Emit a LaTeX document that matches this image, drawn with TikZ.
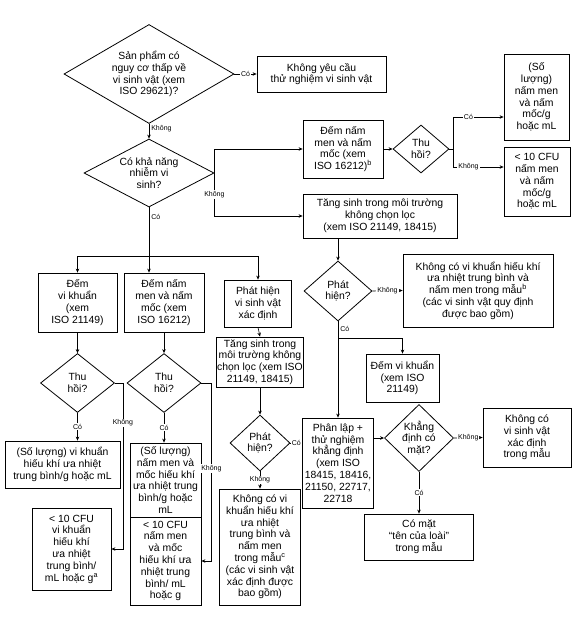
\documentclass[tikz,border=0pt]{standalone}
\usepackage{fontspec}
\setmainfont{Liberation Sans}
\usetikzlibrary{shapes.geometric,arrows.meta}
\begin{document}
\begin{tikzpicture}[x=1pt,y=-1pt,
  every node/.style={font=\fontsize{10.4}{11.8}\selectfont},
  box/.style={draw, line width=0.8pt, align=center, inner sep=0.5pt},
  dia/.style={draw, diamond, line width=0.8pt, align=center, inner sep=0pt},
  lbl/.style={font=\fontsize{7}{8}\selectfont, fill=white, inner sep=1pt},
  lblr/.style={font=\fontsize{7}{8}\selectfont, inner sep=2pt, right},
  arr/.style={-{Stealth[length=4pt,width=3.5pt]}, line width=0.6pt},
  ln/.style={line width=0.6pt}]
\useasboundingbox (0,0) rectangle (576,617);

% top
\node[dia, minimum width=170pt, minimum height=99pt, aspect=1.72] (d1) at (149,74) {Sản phẩm có\\nguy cơ thấp về\\vi sinh vật (xem\\ISO 29621)?};
\node[box, minimum width=129pt, minimum height=36pt] (b1) at (321.5,74) {Không yêu cầu\\thử nghiệm vi sinh vật};
\node[dia, minimum width=130pt, minimum height=68pt, aspect=1.9] (d2) at (149,173) {Có khả năng\\nhiễm vi\\sinh?};

% right column
\node[box, minimum width=80pt, minimum height=58pt] (bnm) at (343,149) {Đếm nấm\\men và nấm\\mốc (xem\\ISO 16212)\textsuperscript{b}};
\node[dia, minimum width=56pt, minimum height=48pt, aspect=1.17] (td) at (421,149) {Thu\\hồi?};
\node[box, minimum width=65pt, minimum height=86pt] (rb1) at (536.5,97) {(Số\\lượng)\\nấm men\\và nấm\\mốc/g\\hoặc mL};
\node[box, minimum width=66pt, minimum height=69pt] (rb2) at (537,181.5) {< 10 CFU\\nấm men\\và nấm\\mốc/g\\hoặc mL};
\node[box, minimum width=154pt, minimum height=44pt] (ts1) at (380,216) {Tăng sinh trong môi trường\\không chọn lọc\\(xem ISO 21149, 18415)};
\node[dia, minimum width=68pt, minimum height=60pt, aspect=1.13] (pd1) at (338,291) {Phát\\hiện?};
\node[box, minimum width=150pt, minimum height=73pt] (nb1) at (478,290.5) {Không có vi khuẩn hiếu khí\\ưa nhiệt trung bình và\\nấm men trong mẫu\textsuperscript{b}\\(các vi sinh vật quy định\\được bao gồm)};
\coordinate (j1) at (338,338);
\node[box, minimum width=73pt, minimum height=48pt] (evk) at (402.5,378) {Đếm vi khuẩn\\(xem ISO\\21149)};
\node[box, minimum width=71pt, minimum height=90pt] (pl) at (338,463) {Phân lập +\\thử nghiệm\\khẳng định\\(xem ISO\\18415, 18416,\\21150, 22717,\\22718};
\node[dia, minimum width=68pt, minimum height=66pt, aspect=1.03] (kd) at (419,438) {Khẳng\\định có\\mặt?};
\node[box, minimum width=88pt, minimum height=59pt] (nb2) at (527,437.5) {Không có\\vi sinh vật\\xác định\\trong mẫu};
\node[box, minimum width=109pt, minimum height=46pt] (cm) at (419,537) {Có mặt\\``tên của loài''\\trong mẫu};

% left three branches
\coordinate (bar) at (149,256);
\node[box, minimum width=79pt, minimum height=59pt] (l1) at (77.5,302.5) {Đếm\\vi khuẩn\\(xem\\ISO 21149)};
\node[box, minimum width=80pt, minimum height=59pt] (l2) at (164,302.5) {Đếm nấm\\men và nấm\\mốc (xem\\ISO 16212)};
\node[box, minimum width=67pt, minimum height=47pt] (l3) at (258,303.5) {Phát hiện\\vi sinh vật\\xác định};
\node[box, minimum width=84pt, minimum height=50pt] (ts2) at (260,362) {Tăng sinh trong\\môi trường không\\chọn lọc (xem ISO\\21149, 18415)};
\node[dia, minimum width=74pt, minimum height=59pt, aspect=1.25] (tl) at (77.5,383) {Thu\\hồi?};
\node[dia, minimum width=74pt, minimum height=59pt, aspect=1.25] (tr) at (164,383) {Thu\\hồi?};
\node[box, minimum width=115pt, minimum height=47pt] (sl1) at (62.5,464.5) {(Số lượng) vi khuẩn\\hiếu khí ưa nhiệt\\trung bình/g hoặc mL};
\node[box, minimum width=79pt, minimum height=82pt] (cl1) at (71.5,549) {< 10 CFU\\vi khuẩn\\hiếu khí\\ưa nhiệt\\trung bình/\\mL hoặc g\textsuperscript{a}};
\node[box, minimum width=71pt, minimum height=74pt] (sm1) at (165.5,480) {(Số lượng)\\nấm men và\\mốc hiếu khí\\ưa nhiệt trung\\bình/g hoặc\\mL};
\node[box, minimum width=71pt, minimum height=88pt] (cm1) at (165.5,561) {< 10 CFU\\nấm men\\và mốc\\hiếu khí ưa\\nhiệt trung\\bình/ mL\\hoặc g};
\node[dia, minimum width=60pt, minimum height=56pt, aspect=1.07] (pd2) at (260,443) {Phát\\hiện?};
\node[box, minimum width=81pt, minimum height=116pt] (nk) at (260,547) {Không có vi\\khuẩn hiếu khí\\ưa nhiệt\\trung bình và\\nấm men\\trong mẫu\textsuperscript{c}\\(các vi sinh vật\\xác định được\\bao gồm)};

% connectors top
\draw[arr] (d1.east) -- node[lbl]{Có} (b1.west);
\draw[arr] (d1.south) -- node[lblr, pos=0.35]{Không} (d2.north);
\draw[arr] (d2.east) |- (bnm.west);
\draw[arr] (d2.east) |- node[lbl, pos=0.25]{Không} (ts1.west);
\draw[ln] (d2.south) -- node[lblr, pos=0.2]{Có} (bar);
\draw[ln] (bar -| l1.north) -- (bar -| l3.north);
\draw[arr] (bar -| l1.north) -- (l1.north);
\draw[arr] (bar) -- (bar |- l2.north);
\draw[arr] (bar -| l3.north) -- (l3.north);

% right column connectors
\draw[arr] (bnm.east) -- (td.west);
\draw[arr] (td.east) -- ++(4,0) |- node[lbl, pos=0.65]{Có} ([yshift=-20pt]rb1.west);
\draw[arr] (td.east) -- ++(4,0) |- node[lbl, pos=0.65]{Không} ([yshift=14.5pt]rb2.west);
\draw[arr] (pd1.north |- ts1.south) -- (pd1.north);
\draw[arr] (pd1.east) -- node[lbl]{Không} (nb1.west);
\draw[arr] (pd1.south) -- node[lblr, pos=0.08]{Có} (pl.north);
\draw[arr] (j1) -| (evk.north);
\draw[arr] (pl.east |- kd.west) -- (kd.west);
\draw[arr] (kd.east) -- node[lbl]{Không} (nb2.west);
\draw[arr] (kd.south) -- node[lbl]{Có} (kd.south |- cm.north);

% left connectors
\draw[arr] (l1.south) -- (tl.north);
\draw[arr] (tl.south) -- node[lbl]{Có} (tl.south |- sl1.north);
\draw[arr] (tl.east) -- ++(8,0) |- node[lbl, pos=0.12]{Không} (cl1.east);
\draw[arr] (l2.south) -- (tr.north);
\draw[arr] (tr.south) -- node[lbl]{Có} (tr.south |- sm1.north);
\draw[arr] (tr.east) -- ++(10,0) |- node[lbl, pos=0.24]{Không} (cm1.east);
\draw[arr] (l3.south) -- (ts2.north);
\draw[arr] (ts2.south) -- (pd2.north);
\draw[arr] (pd2.south) -- node[lbl]{Không} (nk.north);
\draw[arr] (pd2.east) -- node[lbl]{Có} (pd2.east -| pl.west);
\end{tikzpicture}
\end{document}
